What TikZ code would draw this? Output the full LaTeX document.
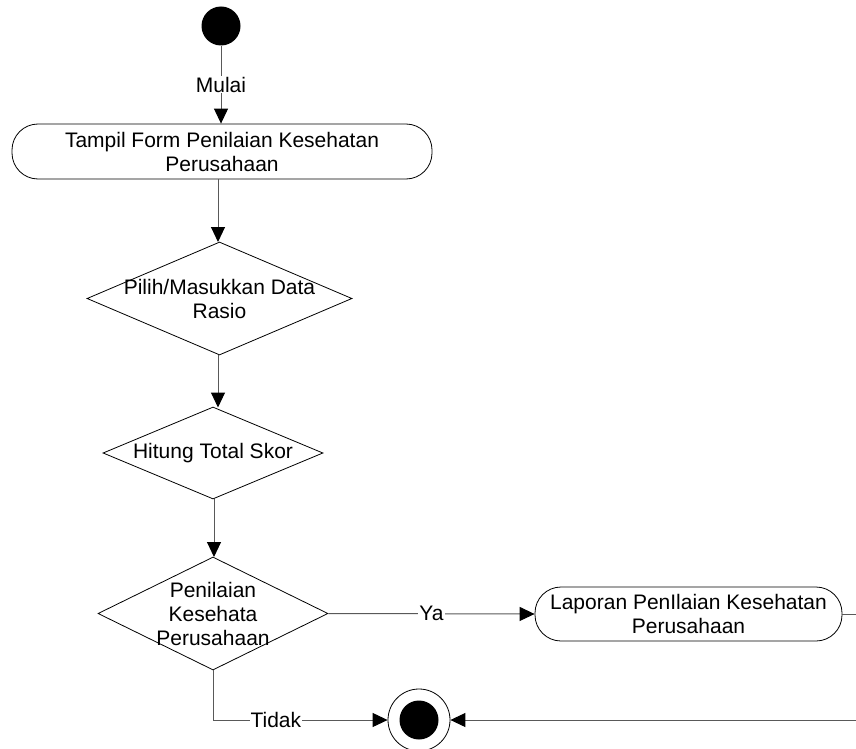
\documentclass[tikz,border=0pt]{standalone}
\usepackage{fontspec}
\setmainfont{Liberation Sans}
\usetikzlibrary{arrows.meta,shapes.geometric}
\begin{document}
\begin{tikzpicture}[x=1pt,y=-1pt,
  every node/.style={font=\fontsize{21pt}{24pt}\selectfont, inner sep=0pt},
  activity/.style={draw=black, line width=0.8pt, rectangle, rounded corners=26pt, align=center},
  decision/.style={draw=black, line width=0.8pt, diamond},
  flow/.style={draw=black!65, line width=1pt, -{Triangle[length=15pt,width=14pt,color=black,fill=black]}},
  plain/.style={draw=black!65, line width=1pt},
  lbl/.style={fill=white, inner sep=1pt}]
  \useasboundingbox (0,0) rectangle (856,749);

  % initial and final states
  \node[circle, fill=black, minimum size=39pt] (start) at (221,26) {};
  \node[circle, draw=black, line width=0.8pt, minimum size=62pt] (fin) at (419,720) {};
  \node[circle, fill=black, minimum size=39pt] (finc) at (419,720) {};

  % activities
  \node[activity, minimum width=420pt, minimum height=55pt] (tampil) at (222,151.5)
    {Tampil Form Penilaian Kesehatan\\Perusahaan};
  \node[activity, minimum width=307pt, minimum height=54pt] (lap) at (688.5,614)
    {Laporan PenIlaian Kesehatan\\Perusahaan};

  % decisions
  \node[decision, minimum width=265pt, minimum height=113pt,
        label={[align=center]center:Pilih/Masukkan Data\\Rasio}] (d1) at (219.5,298.5) {};
  \node[decision, minimum width=220pt, minimum height=92pt,
        label={center:Hitung Total Skor}] (d2) at (213,453) {};
  \node[decision, minimum width=230pt, minimum height=113pt,
        label={[align=center]center:Penilaian\\Kesehata\\Perusahaan}] (d3) at (213,613.5) {};

  % loose ends at the right margin
  \coordinate (r1) at (856,614);
  \coordinate (r2) at (856,720);

  % control flow
  \draw[flow] (start) -- node[lbl] {Mulai} (start |- tampil.north);
  \draw[flow] (218,179) -- (218,242);
  \draw[flow] (218,355) -- (218,407.5);
  \draw[flow] (214,499) -- (214,557);
  \draw[flow] (d3.east) -- node[lbl] {Ya} (lap.west);
  \draw[plain] (lap.east) -- (r1);
  \draw[flow] (d3.south) -- (d3.south |- fin.west) -- node[lbl, pos=0.36] {Tidak} (fin.west);
  \draw[flow] (r2) -- (fin.east);
\end{tikzpicture}
\end{document}
